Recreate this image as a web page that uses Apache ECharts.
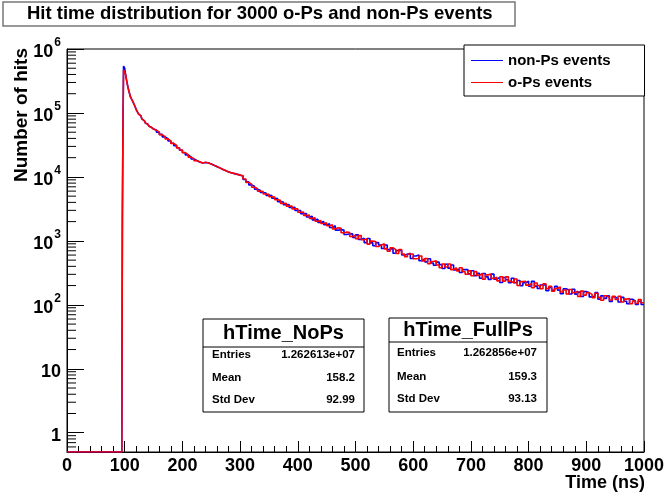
<!DOCTYPE html>
<html><head><meta charset="utf-8">
<script src="https://cdn.jsdelivr.net/npm/echarts@6/dist/echarts.min.js"></script>
<style>html,body{margin:0;padding:0;background:#fff}#c{width:669px;height:493px}</style>
</head><body><div id="c"></div>
<script>
// ---------------- data ----------------
const titleText = 'Hit time distribution for 3000 o-Ps and non-Ps events';
const seriesNames = ['non-Ps events', 'o-Ps events'];
const xTickStep = 100;

// fine binning around the prompt peak (bin low edges, ns)
const earlyTimes = [0,95,96,97,98,99,100,101,102,103,104,105,106,107,108,109,
  110,112,114,116,118,120,122,124,126,128,130,132,134,136,138,140,142,144,146,148];
const nonPsEarly = [0,0,2400,67000,540000,545000,500000,430000,380000,335000,300000,270000,245000,225000,208000,193000,
  178000,164000,152000,138000,125000,113000,104000,96500,90000,85000,80000,76000,72500,69500,66800,64300,62000,59900,58000,56000];
const oPsEarly = [0,1,2600,60000,470000,475000,460000,420000,375000,335000,298000,268000,243000,224000,207000,193000,
  177000,164500,151000,139000,126000,112500,104500,96000,90500,84500,80500,75500,72800,69200,67000,64100,62200,59700,58100,56100];

// 5 ns bins from 150 ns to 1000 ns
const lateBinStart = 150, lateBinWidth = 5;
const nonPsLate = [
  54100,49800,46200,42300,39600,36400,33600,30900,28600,26100,
  24100,22100,20600,19100,18050,17150,16550,16850,16650,15850,
  15250,14450,13850,13050,12550,11950,11650,11250,11050,10650,
  10350,9100,8400,7500,7150,6400,6200,5700,5600,5150,
  5100,4650,4600,4100,4050,3680,3700,3330,3350,2980,
  2990,2650,2680,2360,2420,2130,2180,1940,2000,1790,
  1860,1620,1730,1470,1500,1480,1260,1280,1290,1130,
  1240,1055,1100,940,1090,930,840,940,860,760,
  860,730,770,640,705,715,600,615,640,530,
  580,600,490,520,470,525,450,415,465,425,
  370,430,375,420,350,365,320,355,355,305,
  341,286,310,260,309,274,250,302,252,268,
  224,268,247,221,261,221,240,200,222,233,
  195,233,196,180,204,205,166,187,168,194,
  170,149,178,171,148,175,147,158,135,161,
  154,133,137,155,123,138,126,139,113,133,
  124,111,131,114,104,122,115,101,114,101];
const oPsLate = [
  53800,50200,45800,42700,39300,36700,33400,31100,28400,26300,
  23900,22300,20400,19300,17950,17250,16450,16950,16550,15950,
  15150,14550,13750,13150,12450,12050,11550,11350,10950,10750,
  10450,9300,8200,7700,6900,6600,6000,5900,5400,5350,
  4900,4850,4400,4300,3850,3860,3500,3510,3160,3160,
  2810,2830,2500,2540,2250,2290,2030,2080,1870,1910,
  1720,1790,1540,1600,1570,1340,1370,1350,1170,1230,
  1080,1210,1040,1080,890,990,980,815,865,900,
  750,690,780,730,635,735,625,565,625,625,
  525,530,580,485,530,440,475,490,420,380,
  435,390,435,355,380,340,380,330,300,340,
  285,331,289,310,252,294,303,259,270,237,
  275,235,274,233,219,253,201,231,233,203,
  216,185,220,200,178,213,179,194,163,180,
  191,159,171,148,174,155,163,135,164,142,
  155,146,129,152,131,118,139,130,119,136,
  121,136,111,123,125,104,115,105,121,108];

// stats boxes
const statsNoPs = {name: 'hTime_NoPs', entries: '1.262613e+07', mean: '158.2', std: '92.99'};
const statsFullPs = {name: 'hTime_FullPs', entries: '1.262856e+07', mean: '159.3', std: '93.13'};

// ---------------- build ----------------
const Y_MIN = 0.5, Y_MAX = 1e6, X_MIN = 0, X_MAX = 1000;
const FONT = '"Liberation Sans", Arial, Helvetica, sans-serif';

function buildSeries(early, late) {
  const pts = [];
  earlyTimes.forEach((t, i) => pts.push([t, early[i]]));
  late.forEach((v, i) => pts.push([lateBinStart + i * lateBinWidth, v]));
  pts.push([X_MAX, late[late.length - 1]]);
  return pts.map(([t, v]) => [t, v > 0 ? v : Y_MIN]);
}

const minorTickValues = [];
for (let d = -1; d <= 5; d++) for (let k = 2; k <= 9; k++) {
  const v = k * Math.pow(10, d);
  if (v > Y_MIN && v < Y_MAX) minorTickValues.push(v);
}

function statsBox(s, x, y, w, h, sepY, titleY, rowsY, labelX, valueX) {
  const rowFont = 'bold 11.5px ' + FONT;
  const children = [
    {type: 'rect', shape: {x: x, y: y, width: w, height: h}, style: {fill: '#fff', stroke: '#000', lineWidth: 1}},
    {type: 'line', shape: {x1: x, y1: sepY, x2: x + w, y2: sepY}, style: {stroke: '#000', lineWidth: 1}},
    {type: 'text', x: x + w / 2, y: titleY, style: {text: s.name, font: 'bold 20px ' + FONT, fill: '#000', align: 'center', verticalAlign: 'middle'}}
  ];
  const labels = ['Entries', 'Mean', 'Std Dev'];
  const vals = [s.entries, s.mean, s.std];
  labels.forEach((lb, i) => {
    children.push({type: 'text', x: labelX, y: rowsY[i], style: {text: lb, font: rowFont, fill: '#000', align: 'left', verticalAlign: 'middle'}});
    children.push({type: 'text', x: valueX, y: rowsY[i], style: {text: vals[i], font: rowFont, fill: '#000', align: 'right', verticalAlign: 'middle'}});
  });
  return {type: 'group', children: children, z: 100};
}

const chart = echarts.init(document.getElementById('c'), null, {renderer: 'canvas'});
chart.setOption({
  animation: false,
  backgroundColor: '#fff',
  grid: {left: 67, right: 25, top: 49, bottom: 41, show: true, borderColor: '#000', borderWidth: 1, backgroundColor: 'transparent'},
  xAxis: {
    type: 'value', min: X_MIN, max: X_MAX, interval: xTickStep,
    axisLine: {show: true, lineStyle: {color: '#000'}},
    axisTick: {show: true, inside: true, length: 11, lineStyle: {color: '#000'}},
    minorTick: {show: true, splitNumber: 5, length: 6, lineStyle: {color: '#000'}},
    splitLine: {show: false},
    axisLabel: {color: '#000', fontSize: 18, fontWeight: 'bold', fontFamily: FONT, margin: 5,
      formatter: function (v) { return String(v); }}
  },
  yAxis: {
    type: 'log', logBase: 10, min: Y_MIN, max: Y_MAX, splitNumber: 7,
    axisLine: {show: true, lineStyle: {color: '#000'}},
    axisTick: {show: true, inside: true, length: 17, lineStyle: {color: '#000'}},
    splitLine: {show: false},
    axisLabel: {
      margin: 6,
      formatter: function (v) {
        const l = Math.log10(v), e = Math.round(l);
        if (Math.abs(l - e) > 1e-6) return '';
        if (e === 0) return '{b|1}';
        if (e === 1) return '{b|10}';
        return '{b|10}{s|' + e + '}';
      },
      rich: {
        b: {fontSize: 18, fontWeight: 'bold', fontFamily: FONT, color: '#000', verticalAlign: 'bottom', padding: [6, 0, 0, 0]},
        s: {fontSize: 12, fontWeight: 'bold', fontFamily: FONT, color: '#000', verticalAlign: 'top', padding: [0, 0, 0, 1]}
      }
    }
  },
  legend: {
    orient: 'vertical', left: 464, top: 45, padding: [8, 34, 6, 7], itemGap: 7,
    itemWidth: 32, itemHeight: 1, icon: 'rect',
    backgroundColor: '#fff', borderColor: '#000', borderWidth: 1,
    textStyle: {fontSize: 15, fontWeight: 'bold', fontFamily: FONT, color: '#000'},
    data: seriesNames
  },
  graphic: [
    {type: 'rect', shape: {x: 3, y: 2, width: 512, height: 24}, style: {fill: '#fff', stroke: '#777', lineWidth: 1.5}, z: 100},
    {type: 'text', x: 27, y: 14, style: {text: titleText, font: 'bold 18.5px ' + FONT, fill: '#000', align: 'left', verticalAlign: 'middle'}, z: 101},
    {type: 'text', x: 22, y: 48, rotation: Math.PI / 2, style: {text: 'Number of hits', font: 'bold 19px ' + FONT, fill: '#000', align: 'right', verticalAlign: 'middle'}, z: 101},
    {type: 'text', x: 645, y: 483, style: {text: 'Time (ns)', font: 'bold 18px ' + FONT, fill: '#000', align: 'right', verticalAlign: 'middle'}, z: 101},
    statsBox(statsNoPs, 203, 319, 161, 93, 347, 333, [355, 378, 400], 212, 355),
    statsBox(statsFullPs, 389, 318, 158, 94, 342, 330, [353, 377, 399], 397, 537)
  ],
  series: [
    {name: seriesNames[0], type: 'line', step: 'end', showSymbol: false, symbol: 'none',
     data: buildSeries(nonPsEarly, nonPsLate), lineStyle: {color: '#0000ff', width: 1.6}, itemStyle: {color: '#0000ff'}, z: 3},
    {name: seriesNames[1], type: 'line', step: 'end', showSymbol: false, symbol: 'none',
     data: buildSeries(oPsEarly, oPsLate), lineStyle: {color: '#ff0000', width: 1.6}, itemStyle: {color: '#ff0000'}, z: 4},
    {type: 'custom', silent: true, z: 5, clip: false,
     data: minorTickValues.map(v => [X_MIN, v]),
     renderItem: function (params, api) {
       const p = api.coord([X_MIN, api.value(1)]);
       return {type: 'line', shape: {x1: p[0], y1: p[1], x2: p[0] + 9, y2: p[1]}, style: {stroke: '#000', lineWidth: 1}};
     }}
  ]
});
</script>
</body></html>
